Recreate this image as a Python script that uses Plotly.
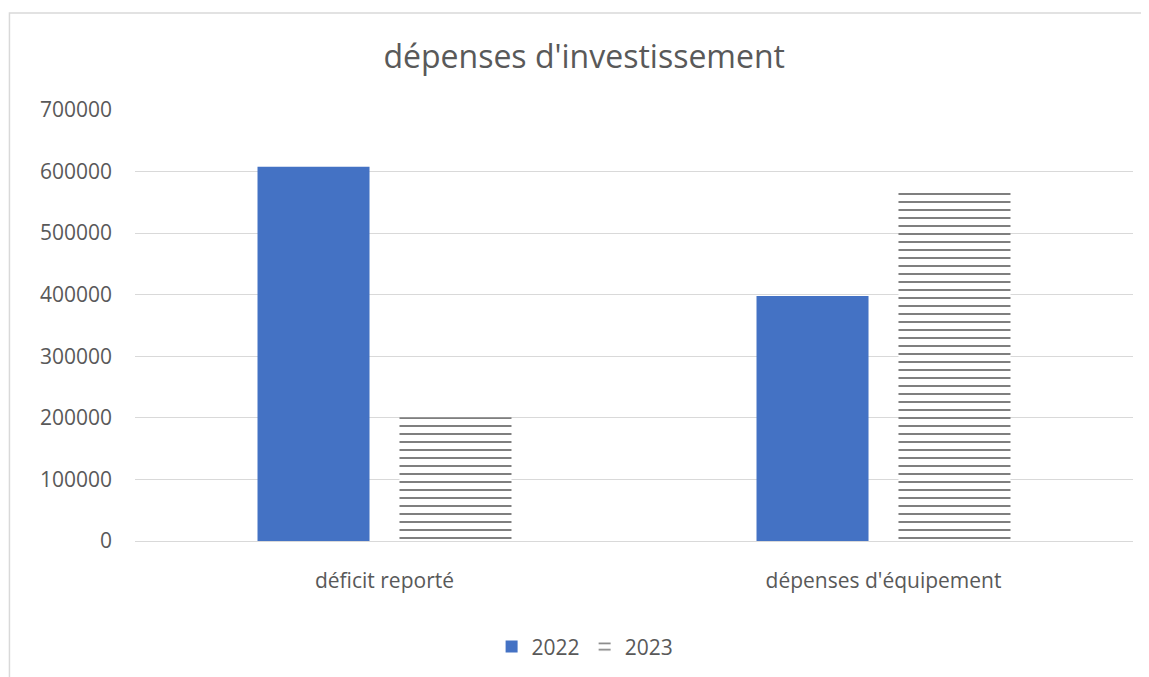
import plotly.graph_objects as go

categories = ["déficit reporté", "dépenses d'équipement"]
values_2022 = [608000, 398000]
values_2023 = [201000, 575000]
series_names = ["2022", "2023"]
y_ticks = [0, 100000, 200000, 300000, 400000, 500000, 600000, 700000]

font_family = "Open Sans, Liberation Sans, sans-serif"
text_color = "#595959"
grid_color = "#d9d9d9"

fig = go.Figure()
fig.add_trace(go.Bar(
    x=categories, y=values_2022, name=series_names[0],
    marker=dict(color="#4472c4", line=dict(width=0)),
))
fig.add_trace(go.Bar(
    x=categories, y=values_2023, name=series_names[1],
    marker=dict(color="white", line=dict(width=0),
                pattern=dict(shape="-", fgcolor="black", bgcolor="white",
                             size=8, solidity=0.25, fillmode="overlay")),
))

fig.update_layout(
    width=1141, height=669,
    margin=dict(l=127, r=16, t=102, b=136, autoexpand=False),
    paper_bgcolor="white", plot_bgcolor="white",
    barmode="group", bargap=0.431, bargroupgap=0.211,
    font=dict(family=font_family, color=text_color, size=21),
    title=dict(text="dépenses d'investissement", x=0.505, xanchor="center",
               y=0.927, yanchor="middle",
               font=dict(size=32, color=text_color, family=font_family)),
    showlegend=True,
    legend=dict(orientation="h", x=0.451, xanchor="center",
                yref="container", y=0.045, yanchor="middle",
                font=dict(size=21, color=text_color), traceorder="normal",
                itemwidth=30),
    xaxis=dict(showgrid=False, showline=True, linecolor=grid_color, linewidth=1.3,
               automargin=False,
               ticks="", ticklabelstandoff=21, tickfont=dict(size=21, color=text_color)),
    yaxis=dict(range=[0, 700000], tickvals=y_ticks, ticktext=[str(v) for v in y_ticks],
               automargin=False,
               showgrid=True, gridcolor=grid_color, gridwidth=1.3,
               zeroline=True, zerolinecolor=grid_color, zerolinewidth=1.3,
               showline=False, ticks="", ticklabelstandoff=22,
               tickfont=dict(size=21, color=text_color)),
    shapes=[dict(type="rect", xref="paper", yref="paper",
                 x0=-0.1258, x1=1.015, y0=-0.35, y1=1.225,
                 line=dict(color=grid_color, width=1.5), fillcolor="rgba(0,0,0,0)",
                 layer="below")],
)

fig.write_html("out.html")
